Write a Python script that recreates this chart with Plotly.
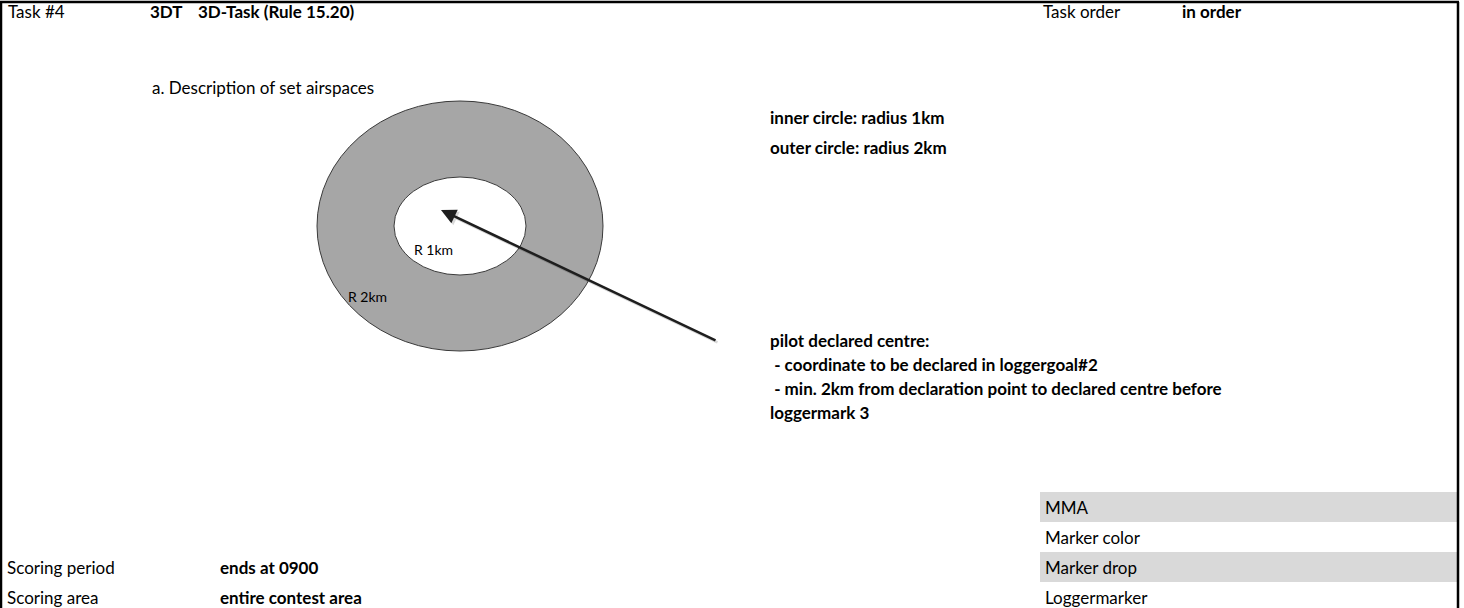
import plotly.graph_objects as go

# ---- content (text values) ----
task_id = "Task #4"
task_code = "3DT"
task_name = "3D-Task (Rule 15.20)"
order_label = "Task order"
order_value = "in order"
section_title = "a. Description of set airspaces"
circle_notes = ["inner circle: radius 1km", "outer circle: radius 2km"]
centre_notes = ["pilot declared centre:",
                " - coordinate to be declared in loggergoal#2",
                " - min. 2km from declaration point to declared centre before",
                "loggermark 3"]
radius_labels = ["R 1km", "R 2km"]
radii_km = [1, 2]
side_items = ["MMA", "Marker color", "Marker drop", "Loggermarker"]
side_shaded = [True, False, True, False]
scoring_labels = ["Scoring period", "Scoring area"]
scoring_values = ["ends at 0900", "entire contest area"]

# ---- layout geometry (page pixels) ----
W, H = 1464, 608
FONT = "Lato, 'Open Sans', sans-serif"
FS = 17
ring_center = (460, 226)
ring_rx = {1: 66, 2: 143}
ring_ry = {1: 49, 2: 125}
arrow_tail = (717, 341)
arrow_tip = (441, 210)

fig = go.Figure()
fig.update_layout(
    width=W, height=H, margin=dict(l=0, r=0, t=0, b=0),
    paper_bgcolor="white", plot_bgcolor="white", showlegend=False,
    xaxis=dict(range=[0, W], visible=False, fixedrange=True),
    yaxis=dict(range=[H, 0], visible=False, fixedrange=True),
)

def txt(x, y, s, bold=False, size=FS):
    fig.add_annotation(x=x, y=y, xref="x", yref="y", text=("<b>%s</b>" % s) if bold else s,
                       showarrow=False, xanchor="left", yanchor="middle",
                       font=dict(family=FONT, size=size, color="black"))

# border
for (x0, y0, x1, y1) in [(0, 2, 1459, 2), (1, 2, 1, H), (1458, 2, 1458, H)]:
    fig.add_shape(type="line", x0=x0, y0=y0, x1=x1, y1=y1, xref="x", yref="y",
                  line=dict(color="black", width=2.5))

# header
HY = 11
txt(6, HY, task_id)
txt(148, HY, task_code, bold=True)
txt(196, HY, task_name, bold=True)
txt(1041, HY, order_label)
txt(1180, HY, order_value, bold=True)

txt(150, 87, section_title)

# ring (outer filled, inner white)
cx, cy = ring_center
for r, fill in zip(sorted(radii_km, reverse=True), ["#A6A6A6", "white"]):
    fig.add_shape(type="circle", xref="x", yref="y",
                  x0=cx - ring_rx[r], x1=cx + ring_rx[r], y0=cy - ring_ry[r], y1=cy + ring_ry[r],
                  fillcolor=fill, line=dict(color="#3a3a3a", width=1))

txt(412, 249, radius_labels[0], size=14)
txt(346, 296, radius_labels[1], size=14)

# arrow with faint shadow
fig.add_annotation(x=arrow_tip[0] + 2, y=arrow_tip[1] + 2, ax=arrow_tail[0] + 2, ay=arrow_tail[1] + 2,
                   xref="x", yref="y", axref="x", ayref="y", text="", showarrow=True,
                   arrowhead=2, arrowsize=1.2, arrowwidth=2.5, arrowcolor="rgba(0,0,0,0.15)")
fig.add_annotation(x=arrow_tip[0], y=arrow_tip[1], ax=arrow_tail[0], ay=arrow_tail[1],
                   xref="x", yref="y", axref="x", ayref="y", text="", showarrow=True,
                   arrowhead=2, arrowsize=1.2, arrowwidth=2.5, arrowcolor="#1e1e1e")

for i, s in enumerate(circle_notes):
    txt(768, 117 + 30 * i, s, bold=True)
for i, s in enumerate(centre_notes):
    txt(768, 340 + 24 * i, s, bold=True)

# side list
for i, (s, shade) in enumerate(zip(side_items, side_shaded)):
    yc = 507 + 30 * i
    if shade:
        fig.add_shape(type="rect", xref="x", yref="y", x0=1040, x1=1457, y0=yc - 15, y1=yc + 15,
                      fillcolor="#D9D9D9", line=dict(width=0), layer="below")
    txt(1043, yc, s)

for i, (lab, val) in enumerate(zip(scoring_labels, scoring_values)):
    txt(5, 567 + 30 * i, lab)
    txt(218, 567 + 30 * i, val, bold=True)

fig.write_html("out.html", config={"displayModeBar": False},
               post_script="document.body.style.margin='0';document.body.style.overflow='hidden';")
